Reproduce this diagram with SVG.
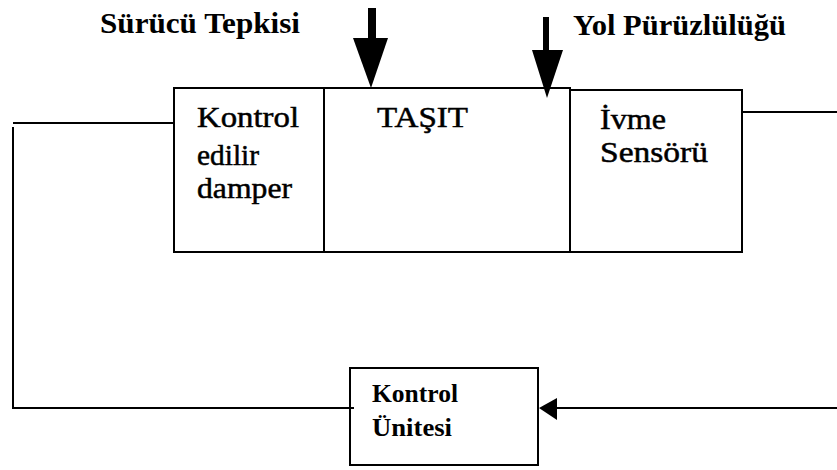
<svg xmlns="http://www.w3.org/2000/svg" width="837" height="470" viewBox="0 0 837 470">
<style>
.box{fill:none;stroke:#000;stroke-width:2}
.ln{fill:none;stroke:#000;stroke-width:2}
.t{font-family:"Liberation Serif",serif;fill:#000}
.lbl{font-size:29px;font-weight:bold}
.in{font-size:30px;stroke:#000;stroke-width:0.5}
.sm{font-size:25px;font-weight:bold}
</style>
<rect width="837" height="470" fill="#fff"/>
<g id="label-surucu"><text class="t lbl" x="100" y="33" textLength="200" lengthAdjust="spacingAndGlyphs">Sürücü Tepkisi</text></g>
<g id="label-yol"><text class="t lbl" x="573" y="35" textLength="213" lengthAdjust="spacingAndGlyphs">Yol Pürüzlülüğü</text></g>
<g id="node-damper">
<rect class="box" x="174" y="88" width="150" height="164"/>
<text class="t in" x="197" y="127" textLength="102" lengthAdjust="spacingAndGlyphs">Kontrol</text>
<text class="t in" x="197" y="165" textLength="62" lengthAdjust="spacingAndGlyphs">edilir</text>
<text class="t in" x="197" y="198" textLength="95" lengthAdjust="spacingAndGlyphs">damper</text>
</g>
<g id="node-tasit">
<rect class="box" x="324" y="88" width="246" height="164"/>
<text class="t in" x="377" y="127" textLength="91" lengthAdjust="spacingAndGlyphs">TAŞIT</text>
</g>
<g id="node-ivme">
<rect class="box" x="570" y="90" width="172" height="162"/>
<text class="t in" x="600" y="129" textLength="66" lengthAdjust="spacingAndGlyphs">İvme</text>
<text class="t in" x="600" y="162" textLength="108" lengthAdjust="spacingAndGlyphs">Sensörü</text>
</g>
<g id="node-kontrol">
<rect class="box" x="350" y="368" width="188" height="97"/>
<text class="t sm" x="372" y="402" textLength="86" lengthAdjust="spacingAndGlyphs">Kontrol</text>
<text class="t sm" x="372" y="436" textLength="80" lengthAdjust="spacingAndGlyphs">Ünitesi</text>
</g>
<g id="connectors">
<polyline class="ln" points="174,123 13,123"/>
<polyline class="ln" points="13,127 13,408 354,408"/>
<polyline class="ln" points="742,112 837,112"/>
<line class="ln" x1="837" y1="408" x2="555" y2="408"/>
<polygon points="539,408 557,398 557,420" fill="#000"/>
<line x1="372" y1="8" x2="372" y2="52" stroke="#000" stroke-width="8"/>
<polygon points="353,38 388,38 371,88" fill="#000"/>
<line x1="546" y1="17" x2="546" y2="52" stroke="#000" stroke-width="6"/>
<polygon points="532,50 563,50 547,98" fill="#000"/>
</g>
</svg>
